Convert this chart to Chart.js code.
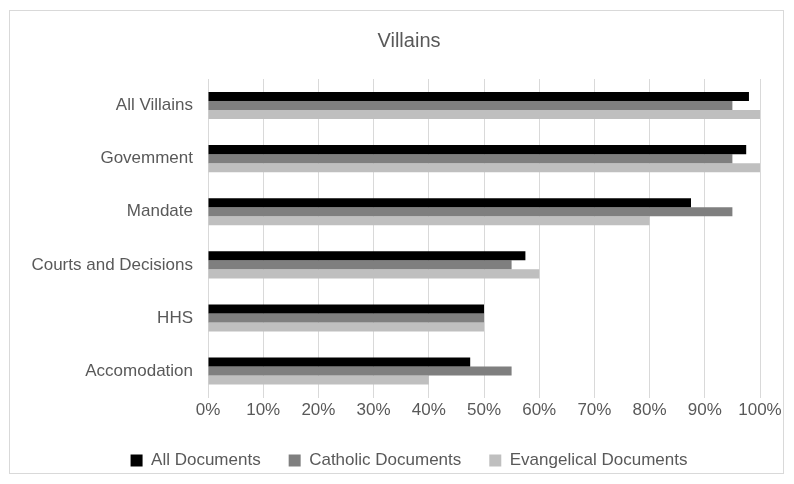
<!DOCTYPE html>
<html>
<head>
<meta charset="utf-8">
<script src="https://cdn.jsdelivr.net/npm/chart.js@4"></script>
<style>
  html, body { margin: 0; padding: 0; background: #fff; }
  #wrap { width: 794px; height: 484px; }
</style>
</head>
<body>
<div id="wrap"><canvas id="villainsChart" width="794" height="484"></canvas></div>
<script>
const categories = ['All Villains', 'Govemment', 'Mandate', 'Courts and Decisions', 'HHS', 'Accomodation'];
const allDocs = [98, 97.5, 87.5, 57.5, 50, 47.5];
const catholicDocs = [95, 95, 95, 55, 50, 55];
const evangelicalDocs = [100, 100, 80, 60, 50, 40];
const xTicks = [0, 10, 20, 30, 40, 50, 60, 70, 80, 90, 100];

const textColor = '#595959';
const font = { family: '"Liberation Sans", Arial, sans-serif', size: 17 };

// thin grey frame around the whole chart
const frame = {
    id: 'frame',
    beforeDraw(chart) {
        const ctx = chart.ctx;
        ctx.save();
        ctx.fillStyle = '#fff';
        ctx.fillRect(0, 0, chart.width, chart.height);
        ctx.strokeStyle = '#d9d9d9';
        ctx.lineWidth = 1;
        ctx.strokeRect(9.5, 10.5, 774, 463);
        ctx.restore();
    }
};

const el = document.getElementById('villainsChart');
new Chart(el, {
    type: 'bar',
    data: {
        labels: categories,
        datasets: [
            { label: 'All Documents', data: allDocs, backgroundColor: '#000000' },
            { label: 'Catholic Documents', data: catholicDocs, backgroundColor: '#7f7f7f' },
            { label: 'Evangelical Documents', data: evangelicalDocs, backgroundColor: '#bfbfbf' }
        ]
    },
    options: {
        indexAxis: 'y',
        responsive: false,
        animation: false,
        categoryPercentage: 0.51,
        barPercentage: 1.0,
        layout: { padding: { left: 24, right: 0, top: 10, bottom: 5 } },
        scales: {
            x: {
                min: 0,
                max: 100,
                afterBuildTicks(axis) {
                    axis.ticks = xTicks.map(v => ({ value: v }));
                },
                afterFit(axis) { axis.paddingRight = 34; },
                ticks: {
                    color: textColor,
                    font: font,
                    padding: 3,
                    callback: v => v + '%'
                },
                grid: { color: '#d9d9d9', drawTicks: false },
                border: { display: false }
            },
            y: {
                afterFit(axis) { axis.width = 184; },
                ticks: { color: textColor, font: font, padding: 7 },
                grid: { display: false },
                border: { display: false }
            }
        },
        plugins: {
            title: {
                display: true,
                text: 'Villains',
                color: textColor,
                font: { family: font.family, size: 20, weight: 'normal' },
                padding: { top: 19, bottom: 26 }
            },
            legend: {
                position: 'bottom',
                labels: {
                    color: textColor,
                    font: font,
                    boxWidth: 12,
                    boxHeight: 12,
                    padding: 28
                }
            },
            tooltip: { enabled: false }
        }
    },
    plugins: [frame]
});
</script>
</body>
</html>
